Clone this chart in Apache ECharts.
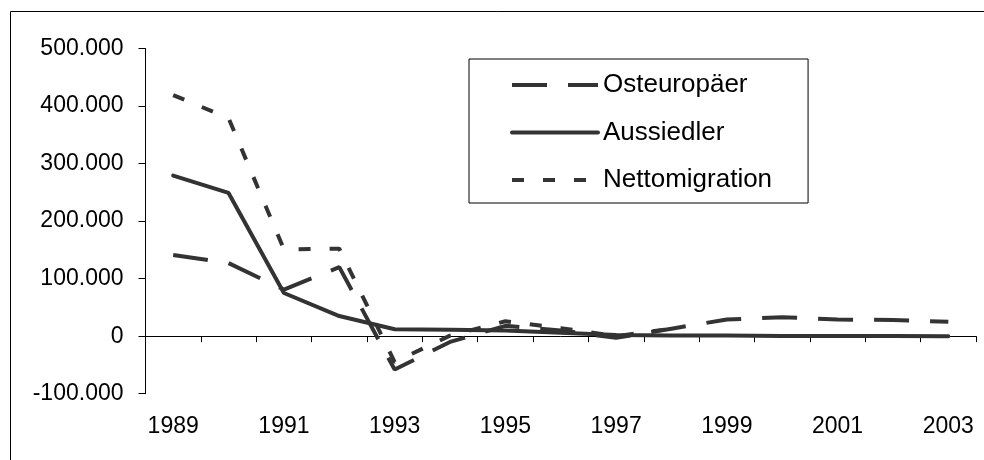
<!DOCTYPE html>
<html>
<head>
<meta charset="utf-8">
<script src="https://cdn.jsdelivr.net/npm/echarts@6/dist/echarts.min.js"></script>
<style>
html,body{margin:0;padding:0;background:#fff;}
#chart{width:984px;height:460px;}
</style>
</head>
<body>
<div id="chart"></div>
<script>
// Data
const years = ['1989','1990','1991','1992','1993','1994','1995','1996','1997','1998','1999','2000','2001','2002','2003'];
const osteuropaeer = [141000, 127000, 81000, 120000, -58000, -10000, 18000, 10000, -3000, 13000, 29000, 33000, 29000, 28000, 25000];
const aussiedler = [279000, 249000, 75000, 35000, 12000, 11000, 10000, 6000, 2000, 1000, 1000, 500, 500, 500, 0];
const nettomigration = [419000, 379000, 151000, 152000, -45000, 1000, 26000, 14000, 0, 13000, null, null, null, null, null];
const yTicks = { min: -100000, max: 500000, step: 100000 };

const FONT = '"Liberation Sans", Arial, sans-serif';
const LINE = '#333333';

function fmt(v) {
  const s = Math.abs(v).toString().replace(/\B(?=(\d{3})+(?!\d))/g, '.');
  return (v < 0 ? '-' : '') + s;
}

const chart = echarts.init(document.getElementById('chart'), null, { renderer: 'canvas' });
chart.setOption({
  animation: false,
  backgroundColor: '#ffffff',
  graphic: [{
    type: 'rect',
    z: -10,
    shape: { x: 10.5, y: 11.5, width: 1000, height: 520 },
    style: { fill: 'none', stroke: '#000', lineWidth: 1 }
  }],
  grid: { left: 145.5, right: 8, top: 48.5, bottom: 66.3, containLabel: false },
  legend: {
    orient: 'vertical',
    left: 469,
    top: 59,
    padding: [13, 36, 10, 41],
    itemWidth: 86,
    itemHeight: 14,
    itemGap: 21.5,
    borderColor: '#000',
    borderWidth: 1,
    itemStyle: { opacity: 0, borderWidth: 0 },
    lineStyle: { width: 4 },
    textStyle: { fontFamily: FONT, fontSize: 26, color: '#000', lineHeight: 26 },
    data: ['Osteuropäer', 'Aussiedler', 'Nettomigration']
  },
  xAxis: [{
    type: 'category',
    data: years,
    position: 'bottom',
    boundaryGap: true,
    axisLine: { show: true, onZero: true, lineStyle: { color: '#000', width: 1 } },
    axisTick: { show: true, interval: 0, length: 6, lineStyle: { color: '#000' } },
    axisLabel: { show: false },
    splitLine: { show: false }
  }, {
    type: 'category',
    data: years,
    position: 'bottom',
    boundaryGap: true,
    axisLine: { show: false, onZero: false },
    axisTick: { show: false },
    axisLabel: { show: true, interval: 1, margin: 21, fontFamily: FONT, fontSize: 23, color: '#000' },
    splitLine: { show: false }
  }],
  yAxis: {
    type: 'value',
    min: yTicks.min,
    max: yTicks.max,
    interval: yTicks.step,
    axisLine: { show: true, lineStyle: { color: '#000', width: 1 } },
    axisTick: { show: true, length: 7, lineStyle: { color: '#000' } },
    axisLabel: { margin: 22, fontFamily: FONT, fontSize: 23, color: '#000', formatter: fmt },
    splitLine: { show: false }
  },
  series: [{
    name: 'Osteuropäer',
    type: 'line',
    data: osteuropaeer,
    symbol: 'none',
    showSymbol: false,
    lineStyle: { color: LINE, width: 4, type: [35, 21], cap: 'butt' },
    itemStyle: { color: LINE }
  }, {
    name: 'Aussiedler',
    type: 'line',
    data: aussiedler,
    symbol: 'none',
    showSymbol: false,
    lineStyle: { color: LINE, width: 4, type: 'solid', cap: 'round' },
    itemStyle: { color: LINE }
  }, {
    name: 'Nettomigration',
    type: 'line',
    data: nettomigration,
    symbol: 'none',
    showSymbol: false,
    connectNulls: false,
    lineStyle: { color: LINE, width: 4, type: [12, 19], cap: 'butt' },
    itemStyle: { color: LINE }
  }]
});
</script>
</body>
</html>
